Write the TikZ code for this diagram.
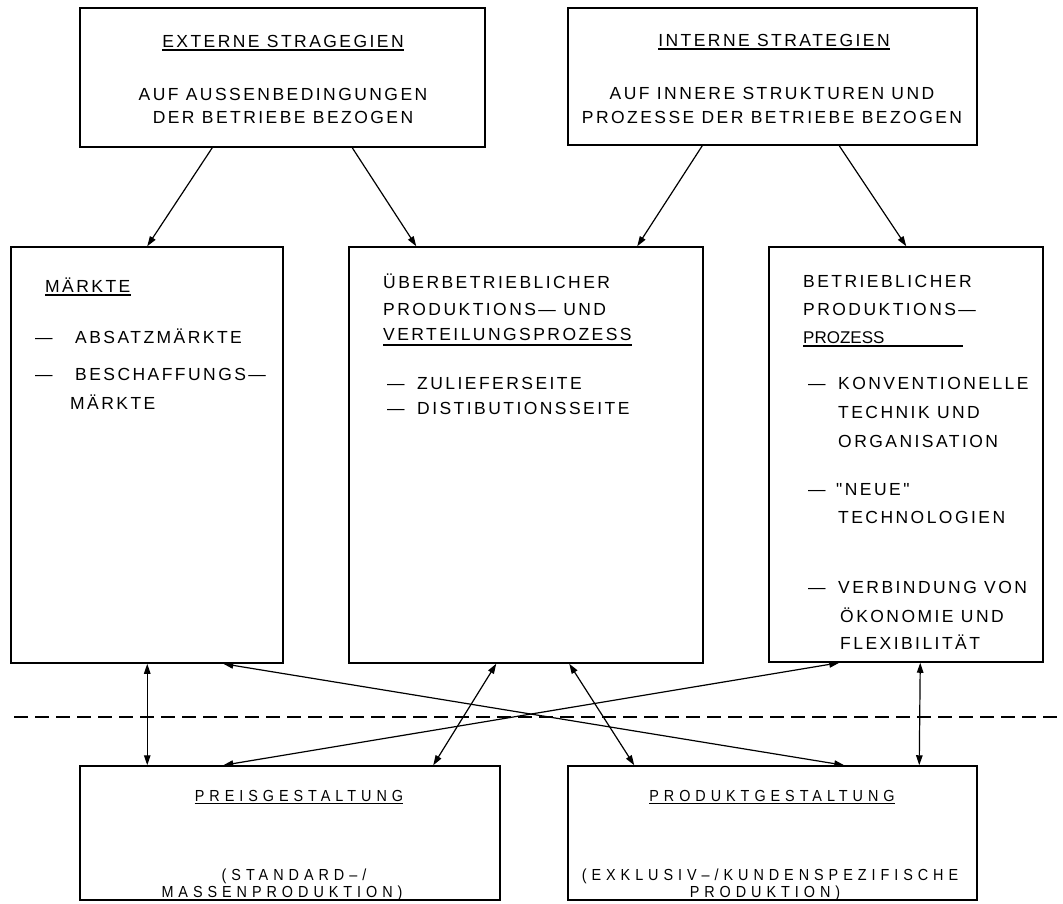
\documentclass[tikz,border=0pt]{standalone}
\usepackage{fontspec}
\setmainfont{Liberation Sans}
\newfontfamily\fta{Liberation Sans}[LetterSpace=14]
\newfontfamily\ftb{Liberation Sans}[LetterSpace=31,FakeStretch=0.9]
\newfontfamily\ftn{Liberation Sans}
\usetikzlibrary{arrows.meta}
\begin{document}
\begin{tikzpicture}[x=1pt,y=-1pt,
  box/.style={draw, line width=1.5pt, inner sep=0pt, rectangle},
  lbl/.style={inner sep=0pt, font=\fta\fontsize{17.5}{20}\selectfont},
  lblb/.style={inner sep=0pt, font=\ftb\fontsize{16}{18}\selectfont},
  lbln/.style={inner sep=0pt, font=\ftn\fontsize{17}{20}\selectfont},
  ul/.style={line width=1.1pt},
  tip/.tip={Triangle[length=10pt,width=6.5pt]},
  arr/.style={line width=1.2pt, -tip},
  biarr/.style={line width=1.2pt, tip-tip},
  dashline/.style={line width=1.5pt, dash pattern=on 14pt off 7pt}
]
\useasboundingbox (0,0) rectangle (1063,903);

% boxes
\node[box, minimum width=405pt, minimum height=139pt] (ext) at (282.5,77.5) {};
\node[box, minimum width=409pt, minimum height=137pt] (int) at (772.5,76.5) {};
\node[box, minimum width=272pt, minimum height=416pt] (mkt) at (147,455) {};
\node[box, minimum width=354pt, minimum height=416pt] (ueb) at (526,455) {};
\node[box, minimum width=274pt, minimum height=415pt] (bet) at (906,454.5) {};
\node[box, minimum width=420pt, minimum height=134pt] (preis) at (290,833) {};
\node[box, minimum width=409pt, minimum height=134pt] (prod) at (772.5,833) {};

% top-left texts
\node[lbl, anchor=base] (e1) at (283,47) {EXTERNE STRAGEGIEN};
\draw[ul] ([yshift=-3pt]e1.base west) -- ([yshift=-3pt]e1.base east);
\node[lbl, anchor=base] (e2) at (283,100) {AUF AUSSENBEDINGUNGEN};
\node[lbl, anchor=base] (e3) at (283,123) {DER BETRIEBE BEZOGEN};

% top-right texts
\node[lbl, anchor=base] (i1) at (774,46) {INTERNE STRATEGIEN};
\draw[ul] ([yshift=-3pt]i1.base west) -- ([yshift=-3pt]i1.base east);
\node[lbl, anchor=base] (i2) at (772,99) {AUF INNERE STRUKTUREN UND};
\node[lbl, anchor=base] (i3) at (772,123) {PROZESSE DER BETRIEBE BEZOGEN};

% Maerkte
\node[lbl, anchor=base west] (m1) at (45,292) {MÄRKTE};
\draw[ul] ([yshift=-3pt]m1.base west) -- ([yshift=-3pt]m1.base east);
\node[lbl, anchor=base west] (m2) at (35,343) {\makebox[40pt][l]{—}ABSATZMÄRKTE};
\node[lbl, anchor=base west] (m3) at (35,380) {\makebox[40pt][l]{—}BESCHAFFUNGS—};
\node[lbl, anchor=base west] (m4) at (70,409) {MÄRKTE};

% Ueberbetrieblicher
\node[lbl, anchor=base west] (u1) at (383,288) {ÜBERBETRIEBLICHER};
\node[lbl, anchor=base west] (u2) at (383,315) {PRODUKTIONS— UND};
\node[lbl, anchor=base west] (u3) at (383,340) {VERTEILUNGSPROZESS};
\draw[ul] ([yshift=-5pt]u3.base west) -- ([yshift=-5pt]u3.base east);
\node[lbl, anchor=base west] (u4) at (387,389) {\makebox[30pt][l]{—}ZULIEFERSEITE};
\node[lbl, anchor=base west] (u5) at (387,414) {\makebox[30pt][l]{—}DISTIBUTIONSSEITE};

% Betrieblicher
\node[lbl, anchor=base west] (b1) at (803,287) {BETRIEBLICHER};
\node[lbl, anchor=base west] (b2) at (803,315) {PRODUKTIONS—};
\node[lbln, anchor=base west] (b3) at (803,343) {PROZESS};
\coordinate (b3e) at (963,346);
\draw[ul] ([yshift=-3pt]b3.base west) -- (b3e);
\node[lbl, anchor=base west] (b4) at (808,389) {\makebox[30pt][l]{—}KONVENTIONELLE};
\node[lbl, anchor=base west] (b5) at (838,418) {TECHNIK UND};
\node[lbl, anchor=base west] (b6) at (838,447) {ORGANISATION};
\node[lbl, anchor=base west] (b7) at (808,495) {\makebox[28pt][l]{—}"NEUE"};
\node[lbl, anchor=base west] (b8) at (838,523) {TECHNOLOGIEN};
\node[lbl, anchor=base west] (b9) at (808,593) {\makebox[30pt][l]{—}VERBINDUNG VON};
\node[lbl, anchor=base west] (b10) at (840,622) {ÖKONOMIE UND};
\node[lbl, anchor=base west] (b11) at (840,649) {FLEXIBILITÄT};

% bottom texts
\node[lblb, anchor=base] (p1) at (299,801) {PREISGESTALTUNG};
\draw[ul] ([yshift=-2.5pt]p1.base west) -- ([yshift=-2.5pt]p1.base east);
\node[lblb, anchor=base] (p2) at (294,880) {(STANDARD–/};
\node[lblb, anchor=base] (p3) at (282,897) {MASSENPRODUKTION)};
\node[lblb, anchor=base] (q1) at (772,801) {PRODUKTGESTALTUNG};
\draw[ul] ([yshift=-2.5pt]q1.base west) -- ([yshift=-2.5pt]q1.base east);
\node[lblb, anchor=base] (q2) at (770,880) {(EXKLUSIV–/KUNDENSPEZIFISCHE};
\node[lblb, anchor=base] (q3) at (765,897) {PRODUKTION)};

% dashed separator
\coordinate (dl) at (14,717);
\coordinate (dr) at (1063,717);
\draw[dashline] (dl) -- (dr);

% arrows from strategies
\draw[arr] ([xshift=133pt]ext.south west) -- ([xshift=137pt]mkt.north west);
\draw[arr] ([xshift=273pt]ext.south west) -- ([xshift=68pt]ueb.north west);
\draw[arr] ([xshift=135pt]int.south west) -- ([xshift=289pt]ueb.north west);
\draw[arr] ([xshift=272pt]int.south west) -- ([xshift=138pt]bet.north west);

% bidirectional arrows
\draw[biarr] ([xshift=137pt]mkt.south west) -- ([xshift=68pt]preis.north west);
\draw[biarr] ([xshift=213pt]mkt.south west) -- ([xshift=277pt]prod.north west);
\draw[biarr] ([xshift=71pt]bet.south west) -- ([xshift=144pt]preis.north west);
\draw[biarr] ([xshift=148pt]ueb.south west) -- ([xshift=354pt]preis.north west);
\draw[biarr] ([xshift=221pt]ueb.south west) -- ([xshift=67pt]prod.north west);
\draw[biarr] ([xshift=152pt]bet.south west) -- ([xshift=352pt]prod.north west);
\end{tikzpicture}
\end{document}
